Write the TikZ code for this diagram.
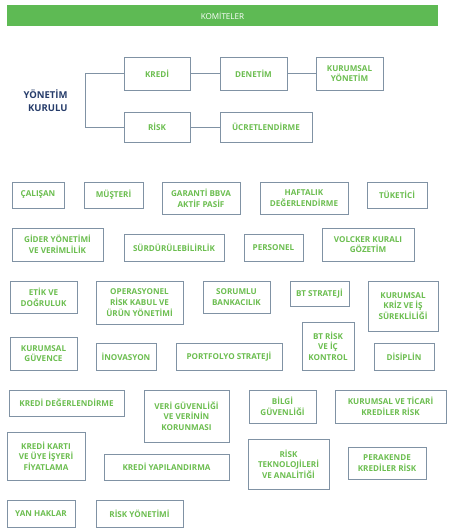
\documentclass[tikz,border=0pt]{standalone}
\usepackage{fontspec}
\setmainfont{Open Sans}
\usepackage{tikz}
\usetikzlibrary{positioning}
\usepackage{xcolor}
\definecolor{bargreen}{RGB}{94,186,84}
\definecolor{textgreen}{RGB}{108,190,80}
\definecolor{edgegrey}{RGB}{128,146,164}
\definecolor{boardblue}{RGB}{38,60,106}

\begin{document}
\begin{tikzpicture}[
    x=1pt, y=-1pt,
    box/.style={
        rectangle, draw=edgegrey, line width=0.9pt, fill=white,
        inner sep=1pt, align=center, text=textgreen,
        font=\bfseries\fontsize{8.1}{10.7}\selectfont
    },
    link/.style={draw=edgegrey, line width=0.9pt}
]
\useasboundingbox (0,0) rectangle (451,528);

% Header bar
\node[fill=bargreen, text=white, minimum width=431, minimum height=21,
      inner sep=0, font=\fontsize{8.1}{9}\selectfont] (komiteler) at (222.5,15.5) {KOMİTELER};

% Board
\node[anchor=east, align=right, text=boardblue,
      font=\bfseries\fontsize{9.5}{13}\selectfont] (kurul) at (71,101) {YÖNETİM\\KURULU};

\node[box, minimum width=66, minimum height=33] (kredi) at (157,73.5) {KREDİ};
\node[box, minimum width=67, minimum height=33] (denetim) at (253.5,73.5) {DENETİM};
\node[box, minimum width=67, minimum height=33] (kurumsal) at (349.5,73.5) {KURUMSAL\\YÖNETİM};
\node[box, minimum width=66, minimum height=30] (risk) at (157,127) {RİSK};
\node[box, minimum width=92, minimum height=30] (ucret) at (266,127) {ÜCRETLENDİRME};

\draw[link] (kredi.west) -- ++(-38,0) |- (risk.west);
\draw[link] (kredi) -- (denetim);
\draw[link] (denetim) -- (kurumsal);
\draw[link] (risk) -- (ucret);

% Committees, row 1
\node[box, minimum width=52, minimum height=26] (calisan) at (38,195) {ÇALIŞAN};
\node[box, minimum width=59, minimum height=26] (musteri) at (113.5,195) {MÜŞTERİ};
\node[box, minimum width=78, minimum height=32] (garanti) at (201,198) {GARANTİ BBVA\\AKTİF PASİF};
\node[box, minimum width=88, minimum height=32] (haftalik) at (304,198) {HAFTALIK\\DEĞERLENDİRME};
\node[box, minimum width=60, minimum height=26] (tuketici) at (397,195) {TÜKETİCİ};

% Committees, row 2
\node[box, minimum width=91, minimum height=33] (gider) at (57.5,244.5) {GİDER YÖNETİMİ\\VE VERİMLİLİK};
\node[box, minimum width=100, minimum height=27] (surdur) at (174,247.5) {SÜRDÜRÜLEBİLİRLİK};
\node[box, minimum width=59, minimum height=27] (personel) at (273.5,247.5) {PERSONEL};
\node[box, minimum width=92, minimum height=33] (volcker) at (368,244.5) {VOLCKER KURALI\\GÖZETİM};

% Committees, row 3
\node[box, minimum width=67, minimum height=32] (etik) at (43.5,297) {ETİK VE\\DOĞRULUK};
\node[box, minimum width=87, minimum height=43] (operasyonel) at (139.5,302.5) {OPERASYONEL\\RİSK KABUL VE\\ÜRÜN YÖNETİMİ};
\node[box, minimum width=67, minimum height=32] (sorumlu) at (236.5,297) {SORUMLU\\BANKACILIK};
\node[box, minimum width=59, minimum height=25] (btstrateji) at (319.5,293.5) {BT STRATEJİ};
\node[box, minimum width=70, minimum height=50] (kriz) at (403,306) {KURUMSAL\\KRİZ VE İŞ\\SÜREKLİLİĞİ};

% Committees, row 4
\node[box, minimum width=67, minimum height=33] (guvence) at (43.5,353.5) {KURUMSAL\\GÜVENCE};
\node[box, minimum width=60, minimum height=27] (inovasyon) at (126,356.5) {İNOVASYON};
\node[box, minimum width=106, minimum height=27] (portfolyo) at (229,356.5) {PORTFOLYO STRATEJİ};
\node[box, minimum width=52, minimum height=48] (btrisk) at (328,346) {BT RİSK\\VE İÇ\\KONTROL};
\node[box, minimum width=60, minimum height=27] (disiplin) at (404,356.5) {DİSİPLİN};

% Committees, row 5
\node[box, minimum width=115, minimum height=26] (kredideg) at (66.5,403) {KREDİ DEĞERLENDİRME};
\node[box, minimum width=85, minimum height=52] (veri) at (186.5,416) {VERİ GÜVENLİĞİ\\VE VERİNİN\\KORUNMASI};
\node[box, minimum width=67, minimum height=33] (bilgi) at (282.5,406.5) {BİLGİ\\GÜVENLİĞİ};
\node[box, minimum width=111, minimum height=33] (ticari) at (390.5,406.5) {KURUMSAL VE TİCARİ\\KREDİLER RİSK};

% Committees, row 6
\node[box, minimum width=78, minimum height=48] (kart) at (46,456) {KREDİ KARTI\\VE ÜYE İŞYERİ\\FİYATLAMA};
\node[box, minimum width=125, minimum height=26] (yapilandirma) at (166.5,467) {KREDİ YAPILANDIRMA};
\node[box, minimum width=81, minimum height=50] (risktek) at (288.5,464) {RİSK\\TEKNOLOJİLERİ\\VE ANALİTİĞİ};
\node[box, minimum width=78, minimum height=32] (perakende) at (387,463) {PERAKENDE\\KREDİLER RİSK};

% Committees, row 7
\node[box, minimum width=68, minimum height=27] (yanhaklar) at (41,513.5) {YAN HAKLAR};
\node[box, minimum width=87, minimum height=27] (riskyonetimi) at (139.5,513.5) {RİSK YÖNETİMİ};

\end{tikzpicture}
\end{document}
